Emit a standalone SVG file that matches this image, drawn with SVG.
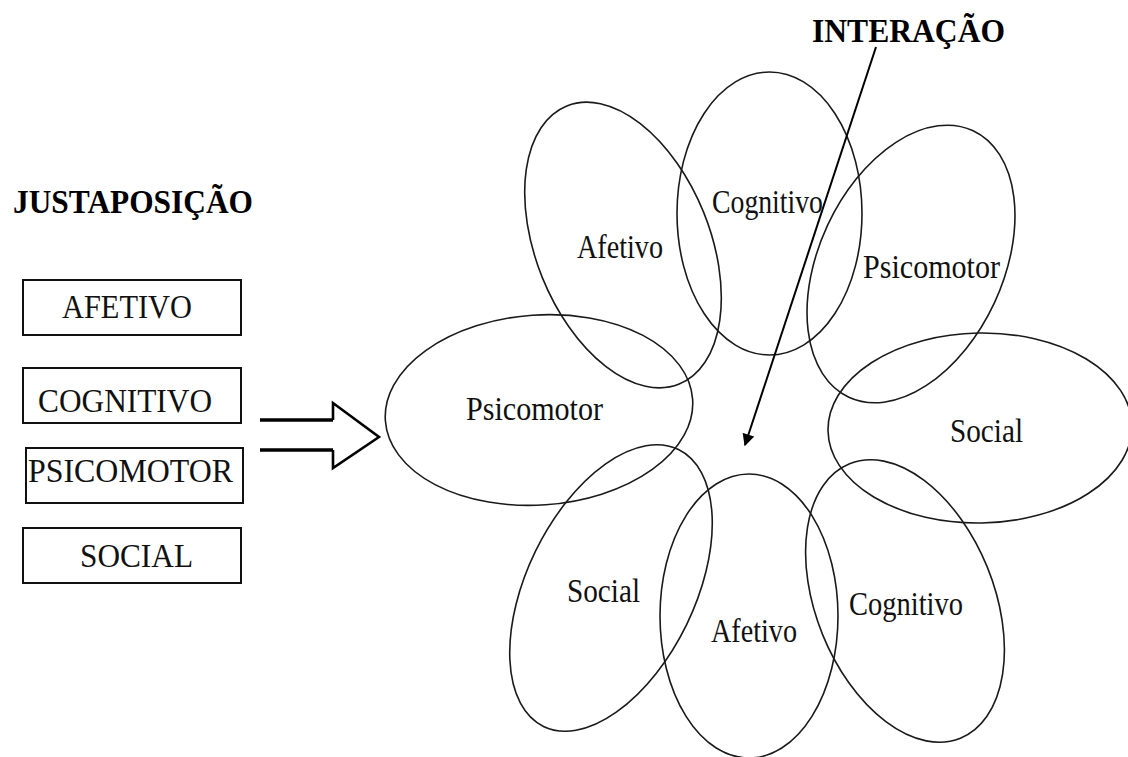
<svg xmlns="http://www.w3.org/2000/svg" width="1128" height="757" viewBox="0 0 1128 757">
  <style>
    .title { font-family: "Liberation Serif", "Times New Roman", serif; font-weight: bold; font-size: 34px; fill: #000; }
    .boxtext { font-family: "Liberation Serif", "Times New Roman", serif; font-size: 34px; fill: #111; }
    .petal { fill: none; stroke: #1a1a1a; stroke-width: 1.6; }
    .petaltext { font-family: "Liberation Serif", "Times New Roman", serif; font-size: 34px; fill: #111; }
    .box { fill: #fff; stroke: #111; stroke-width: 2; }
    .conn { fill: none; stroke: #000; }
  </style>
  <defs>
    <marker id="arrowhead" viewBox="0 0 10 10" refX="9" refY="5" markerWidth="6.5" markerHeight="6" orient="auto" markerUnits="strokeWidth">
      <path d="M0,0 L10,5 L0,10 z" fill="#000"/>
    </marker>
  </defs>
  <rect x="0" y="0" width="1128" height="757" fill="#fff"/>

  <!-- Left column: juxtaposed domains -->
  <g id="justaposicao">
    <text class="title" x="13" y="213" textLength="240" lengthAdjust="spacingAndGlyphs">JUSTAPOSIÇÃO</text>
  </g>
  <g id="box-afetivo">
    <rect class="box" x="23" y="280" width="218" height="55"/>
    <text class="boxtext" x="62" y="318" textLength="130" lengthAdjust="spacingAndGlyphs">AFETIVO</text>
  </g>
  <g id="box-cognitivo">
    <rect class="box" x="23" y="368" width="218" height="55"/>
    <text class="boxtext" x="38" y="412" textLength="174" lengthAdjust="spacingAndGlyphs">COGNITIVO</text>
  </g>
  <g id="box-psicomotor">
    <rect class="box" x="26" y="448" width="217" height="55"/>
    <text class="boxtext" x="28" y="482" textLength="205" lengthAdjust="spacingAndGlyphs">PSICOMOTOR</text>
  </g>
  <g id="box-social">
    <rect class="box" x="23" y="528" width="218" height="55"/>
    <text class="boxtext" x="80" y="567" textLength="113" lengthAdjust="spacingAndGlyphs">SOCIAL</text>
  </g>

  <!-- Right side: interacting domains arranged as petals -->
  <g id="petal-afetivo-top">
    <ellipse class="petal" cx="623" cy="245" rx="87" ry="150" transform="rotate(-22 623 245)"/>
    <text class="petaltext" x="577" y="258" textLength="86" lengthAdjust="spacingAndGlyphs">Afetivo</text>
  </g>
  <g id="petal-cognitivo-top">
    <ellipse class="petal" cx="769.5" cy="213.5" rx="92.5" ry="141.5"/>
    <text class="petaltext" x="712" y="213" textLength="111" lengthAdjust="spacingAndGlyphs">Cognitivo</text>
  </g>
  <g id="petal-psicomotor-right">
    <ellipse class="petal" cx="911" cy="264" rx="92" ry="147" transform="rotate(25 911 264)"/>
    <text class="petaltext" x="863" y="278" textLength="137" lengthAdjust="spacingAndGlyphs">Psicomotor</text>
  </g>
  <g id="petal-psicomotor-left">
    <ellipse class="petal" cx="539" cy="410" rx="154" ry="95" transform="rotate(-4 539 410)"/>
    <text class="petaltext" x="466" y="420" textLength="137" lengthAdjust="spacingAndGlyphs">Psicomotor</text>
  </g>
  <g id="petal-social-right">
    <ellipse class="petal" cx="980" cy="428" rx="152" ry="95" transform="rotate(-1 980 428)"/>
    <text class="petaltext" x="950" y="442" textLength="73" lengthAdjust="spacingAndGlyphs">Social</text>
  </g>
  <g id="petal-social-bottom">
    <ellipse class="petal" cx="611" cy="588" rx="84" ry="154" transform="rotate(26 611 588)"/>
    <text class="petaltext" x="567" y="602" textLength="73" lengthAdjust="spacingAndGlyphs">Social</text>
  </g>
  <g id="petal-afetivo-bottom">
    <ellipse class="petal" cx="749" cy="616" rx="89" ry="142"/>
    <text class="petaltext" x="711" y="642" textLength="86" lengthAdjust="spacingAndGlyphs">Afetivo</text>
  </g>
  <g id="petal-cognitivo-bottom">
    <ellipse class="petal" cx="905" cy="601" rx="89" ry="148" transform="rotate(-22 905 601)"/>
    <text class="petaltext" x="849" y="615" textLength="114" lengthAdjust="spacingAndGlyphs">Cognitivo</text>
  </g>

  <g id="interacao">
    <text class="title" x="812" y="42" textLength="193" lengthAdjust="spacingAndGlyphs">INTERAÇÃO</text>
  </g>

  <!-- Connectors -->
  <g id="connectors">
    <!-- open block arrow from the boxes to the petals -->
    <path class="conn" d="M260,420 L333,420" stroke-width="3.5"/>
    <path class="conn" d="M260,450 L333,450" stroke-width="3.5"/>
    <path class="conn" d="M333,420 L333,403 L379,437 L333,468 L333,450" stroke-width="2.6" stroke-linejoin="miter"/>
    <!-- pointer from the title to the centre of the flower -->
    <line class="conn" x1="876" y1="47" x2="745" y2="445" stroke-width="2" marker-end="url(#arrowhead)"/>
  </g>
</svg>
